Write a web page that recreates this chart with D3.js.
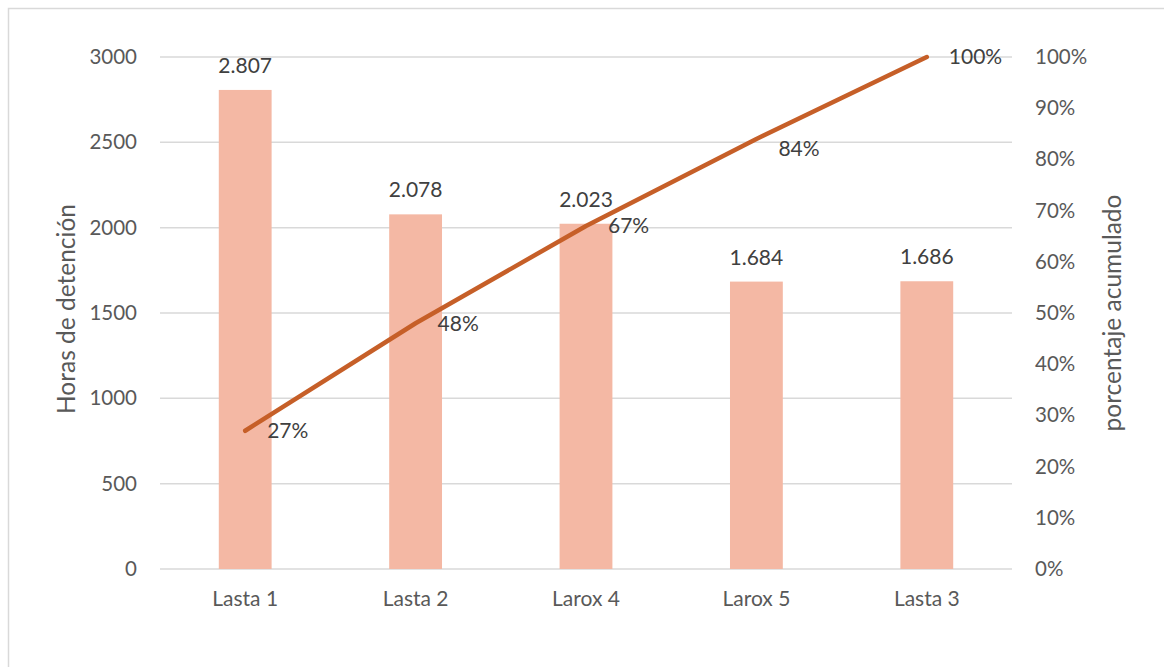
<!DOCTYPE html>
<html>
<head>
<meta charset="utf-8">
<script src="https://cdn.jsdelivr.net/npm/d3@7"></script>
<style>
body { margin: 0; background: #fff; }
text { font-family: Lato, "Open Sans", sans-serif; }
</style>
</head>
<body>
<svg id="chart" width="1164" height="667"></svg>
<script>
const categories = ["Lasta 1", "Lasta 2", "Larox 4", "Larox 5", "Lasta 3"];
const hours = [2807, 2078, 2023, 1684, 1686];
const cumulative = [0.27, 0.48, 0.67, 0.84, 1.00];
const leftTicks = [0, 500, 1000, 1500, 2000, 2500, 3000];
const rightTicks = [0, 0.1, 0.2, 0.3, 0.4, 0.5, 0.6, 0.7, 0.8, 0.9, 1.0];

const svg = d3.select("#chart");
const W = 1164, H = 667;
const plot = { left: 160, right: 1012, top: 57, bottom: 569 };
const textColor = "#595959";
const tickSize = "20.5px";
const labelSize = "21px";

// outer border (top & left visible)
svg.append("path")
  .attr("d", `M8.5,${H} L8.5,8.5 L${W},8.5`)
  .attr("fill", "none").attr("stroke", "#D9D9D9").attr("stroke-width", 1.5);

const x = d3.scaleBand().domain(categories).range([plot.left, plot.right]).paddingInner(0.69).paddingOuter(0.345);
const y = d3.scaleLinear().domain([0, 3000]).range([plot.bottom, plot.top]);
const y2 = d3.scaleLinear().domain([0, 1]).range([plot.bottom, plot.top]);

// gridlines
svg.append("g").selectAll("line").data(leftTicks).join("line")
  .attr("x1", plot.left).attr("x2", plot.right)
  .attr("y1", d => y(d)).attr("y2", d => y(d))
  .attr("stroke", "#D9D9D9").attr("stroke-width", 1.5);

// left axis
const leftAxis = svg.append("g").attr("transform", `translate(${plot.left},0)`)
  .call(d3.axisLeft(y).tickValues(leftTicks).tickSize(0).tickPadding(23).tickFormat(d3.format("d")));
leftAxis.select(".domain").remove();
leftAxis.selectAll("text").attr("fill", textColor).style("font-size", tickSize).style("font-family", "Lato");

// right axis
const rightAxis = svg.append("g").attr("transform", `translate(${plot.right},0)`)
  .call(d3.axisRight(y2).tickValues(rightTicks).tickSize(0).tickPadding(23).tickFormat(d3.format(".0%")));
rightAxis.select(".domain").remove();
rightAxis.selectAll("text").attr("fill", textColor).style("font-size", tickSize).style("font-family", "Lato");

// bottom axis
const bottomAxis = svg.append("g").attr("transform", `translate(0,${plot.bottom})`)
  .call(d3.axisBottom(x).tickSize(0).tickPadding(22));
bottomAxis.select(".domain").remove();
bottomAxis.selectAll("text").attr("fill", textColor).style("font-size", labelSize).style("font-family", "Lato");

// bars
svg.append("g").selectAll("rect").data(hours).join("rect")
  .attr("x", (d, i) => x(categories[i]))
  .attr("width", x.bandwidth())
  .attr("y", d => y(d))
  .attr("height", d => y(0) - y(d))
  .attr("fill", "#F4B8A4");

// bar labels
const fmt = d => d3.format(",")(d).replace(/,/g, ".");
svg.append("g").selectAll("text").data(hours).join("text")
  .attr("x", (d, i) => x(categories[i]) + x.bandwidth() / 2)
  .attr("y", d => y(d) - 17)
  .attr("text-anchor", "middle")
  .attr("fill", "#404040")
  .style("font-size", labelSize)
  .text(d => fmt(d));

// line
const line = d3.line()
  .x((d, i) => x(categories[i]) + x.bandwidth() / 2)
  .y(d => y2(d));
svg.append("path").datum(cumulative)
  .attr("d", line)
  .attr("fill", "none")
  .attr("stroke", "#C65F28")
  .attr("stroke-width", 4.5)
  .attr("stroke-linecap", "round")
  .attr("stroke-linejoin", "round");

// line labels (the 84% label sits slightly below its point in the original)
svg.append("g").selectAll("text").data(cumulative).join("text")
  .attr("x", (d, i) => x(categories[i]) + x.bandwidth() / 2 + 22)
  .attr("y", (d, i) => y2(d) + (i === 3 ? 10 : 0))
  .attr("dy", "0.35em")
  .attr("fill", "#404040")
  .style("font-size", labelSize)
  .text(d => d3.format(".0%")(d));

// axis titles
svg.append("text")
  .attr("transform", `translate(75,309) rotate(-90)`)
  .attr("text-anchor", "middle")
  .attr("fill", textColor)
  .style("font-size", "24.5px")
  .text("Horas de detención");

svg.append("text")
  .attr("transform", `translate(1121,313) rotate(-90)`)
  .attr("text-anchor", "middle")
  .attr("fill", textColor)
  .style("font-size", "24.5px")
  .text("porcentaje acumulado");
</script>
</body>
</html>
